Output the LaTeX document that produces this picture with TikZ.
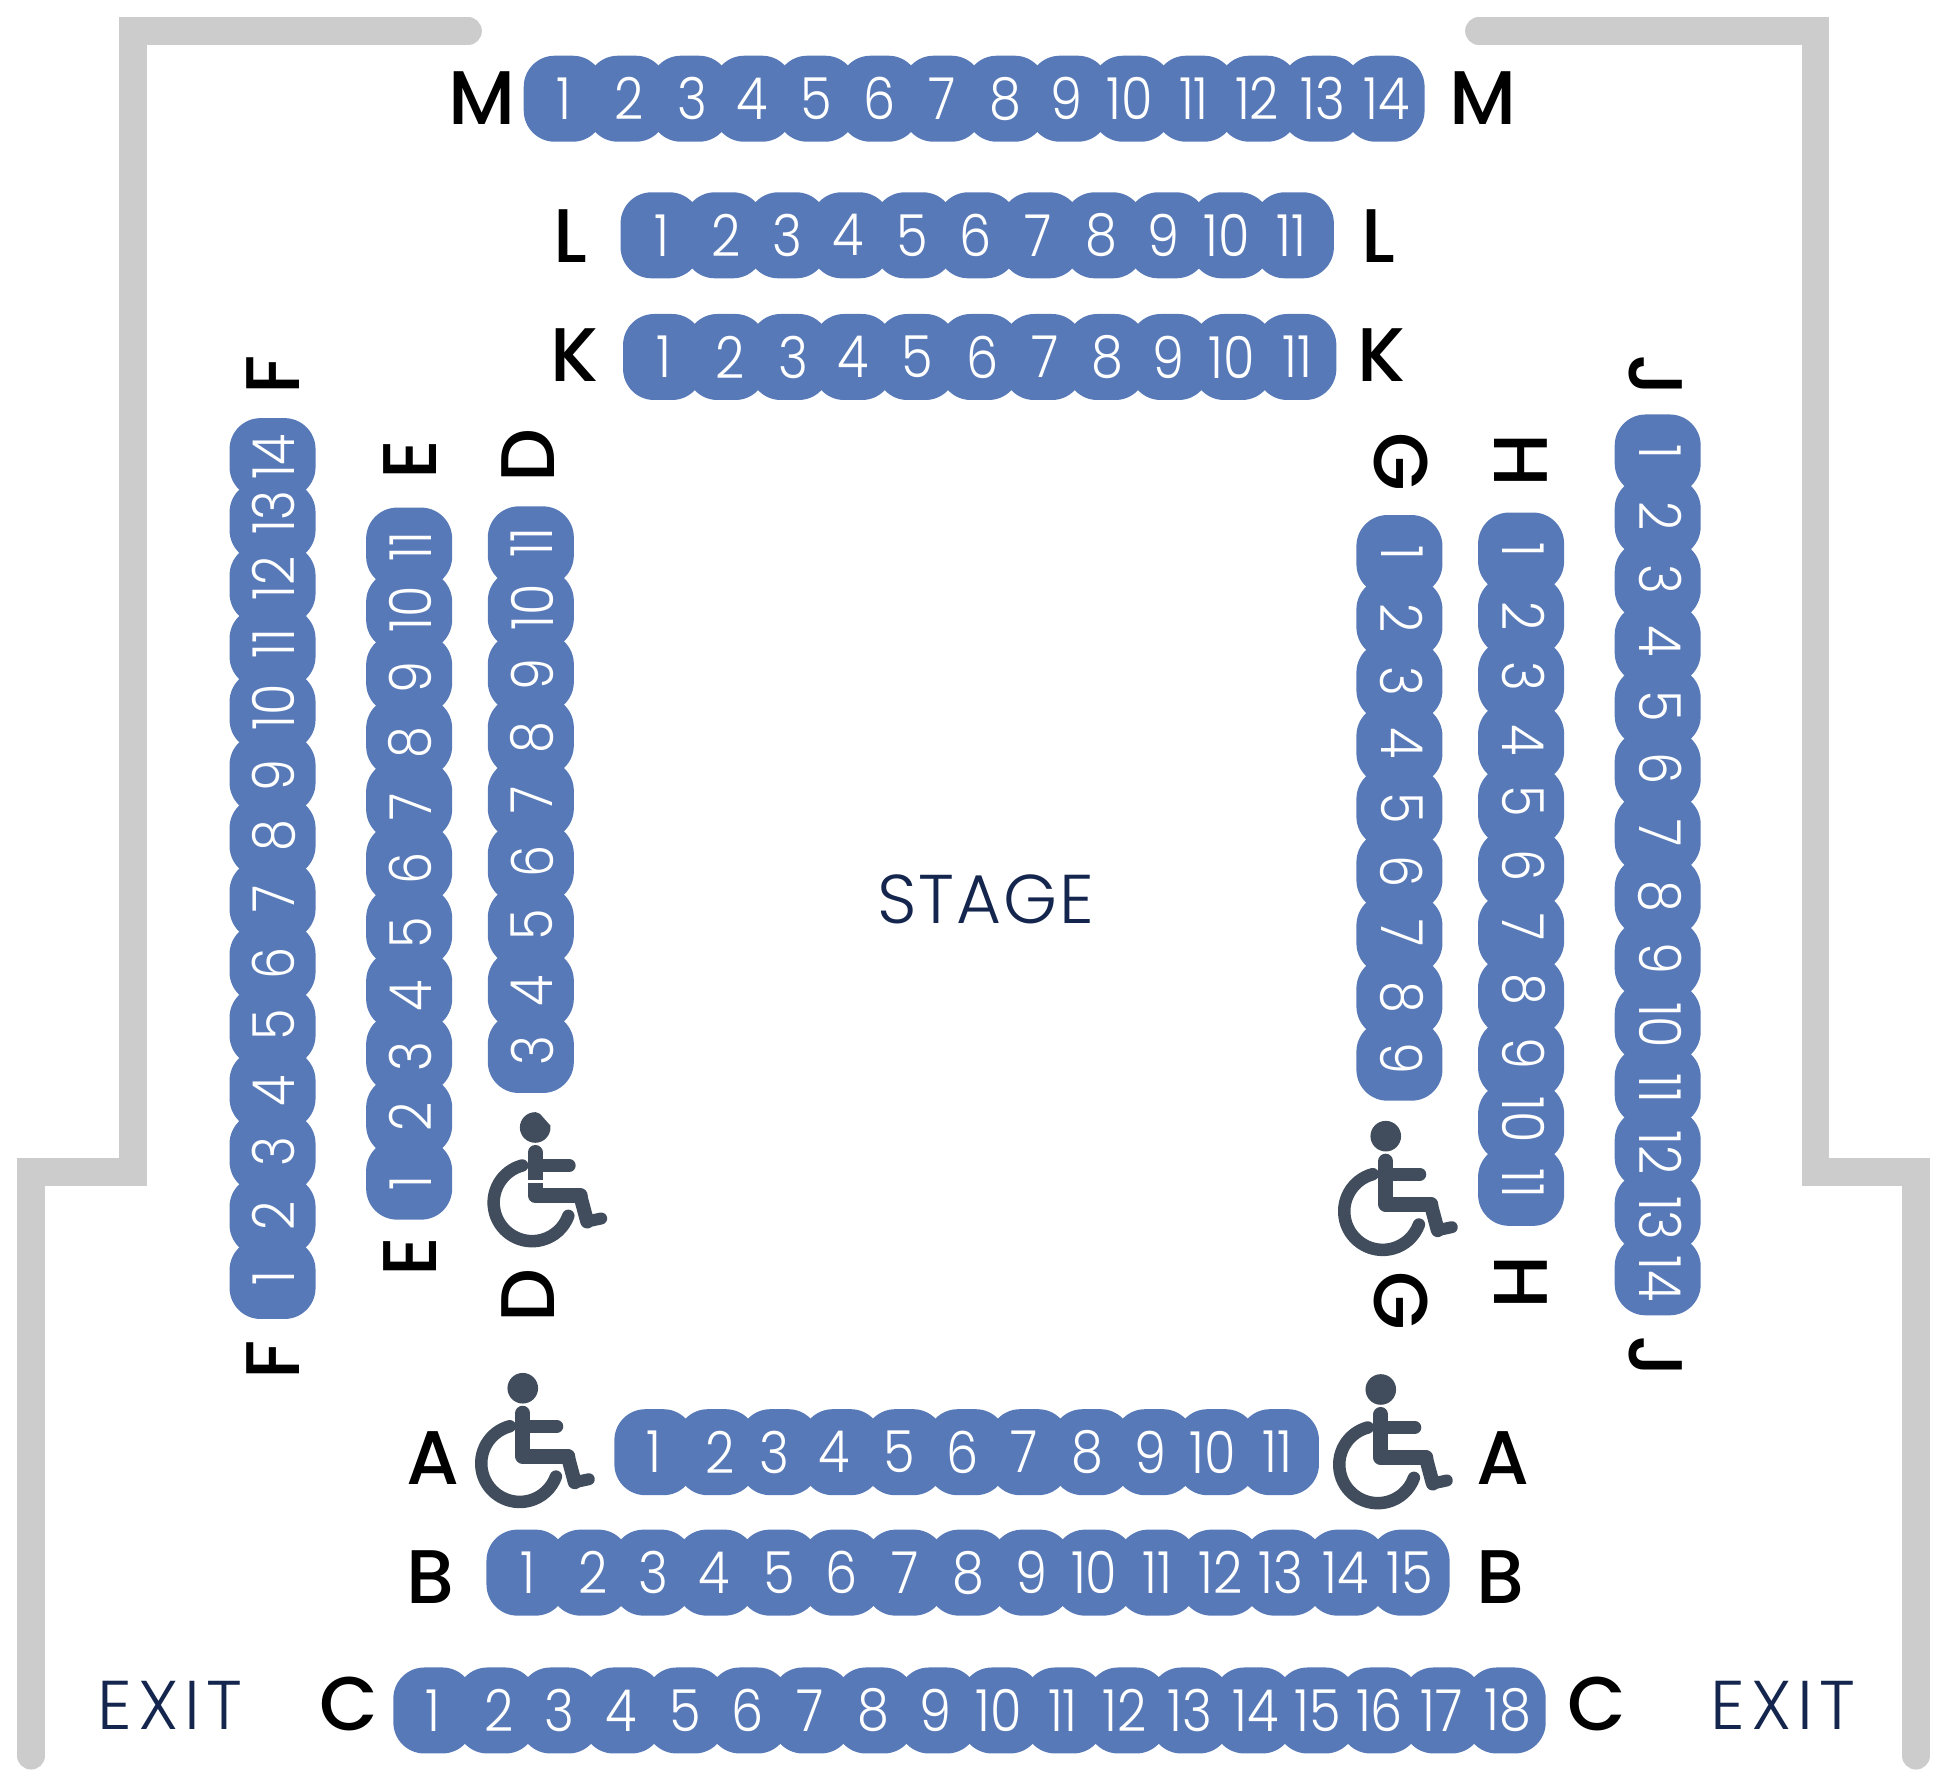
\documentclass[tikz,border=0pt]{standalone}
\usepackage{fontspec}
\setmainfont{Poppins}
\newfontfamily\thinfont{Poppins Light}
\newfontfamily\seatfont{Poppins Light}[FakeStretch=0.88]
\newfontfamily\medfont{Poppins Medium}
\definecolor{seatblue}{HTML}{5879B8}
\definecolor{wallgrey}{HTML}{CCCCCC}
\definecolor{chairgrey}{HTML}{414D5C}
\definecolor{navy}{HTML}{14264D}
\tikzset{
  seatnode/.style={fill=seatblue,rounded corners=31pt,minimum width=80pt,minimum height=86pt,inner sep=0pt},
  seatnum/.style={text=white,inner sep=0pt,font=\seatfont\fontsize{58}{58}\selectfont},
  rowlabel/.style={text=black,inner sep=0pt,font=\medfont\fontsize{76}{76}\selectfont},
  stagetext/.style={text=navy,inner sep=0pt,font=\thinfont\fontsize{69}{69}\selectfont\addfontfeature{LetterSpace=3}},
  exittext/.style={text=navy,inner sep=0pt,font=\thinfont\fontsize{69}{69}\selectfont\addfontfeature{LetterSpace=9}},
  wall/.style={draw=wallgrey,line width=27.5pt,line cap=round,miter limit=10},
  chairpart/.style={draw=chairgrey,line cap=round},
}
\newcommand{\numperp}{0}
% name, x of seat first, y of seat first, step x, step y, first number, last number, rotation, number offsets along the row
\newcommand{\seatline}[9]{%
  \foreach \n in {#6,...,#7}{%
    \pgfmathsetmacro{\px}{#2+(\n-#6)*(#4)}%
    \pgfmathsetmacro{\py}{#3+(\n-#6)*(#5)}%
    \node[seatnode,rotate=#8] (#1\n) at (\px,\py) {};%
  }%
  \foreach \n in {#6,...,#7}{%
    \pgfmathsetmacro{\px}{#2+(\n-#6)*(#4)}%
    \pgfmathsetmacro{\py}{#3+(\n-#6)*(#5)}%
    \pgfmathsetmacro{\off}{{#9}[int(\n-#6)]}%
    \pgfmathsetmacro{\qx}{\px+(#5==0 ? \off : \numperp)}%
    \pgfmathsetmacro{\qy}{\py+(#5==0 ? \numperp : \off)}%
    \node[seatnum,rotate=#8] (#1n\n) at (\qx,\qy) {\n};%
  }%
}
\newcommand{\wheelchair}[2]{%
  \begin{scope}[shift={(#1,#2)},x=1pt,y=-1pt]
    \fill[chairgrey] (0,0) circle[radius=15.3];
    \draw[chairpart,line width=15pt,line join=round] (0,25) -- (0,68) -- (45,68);
    \draw[chairpart,line width=13pt] (0,38) -- (34,38);
    \draw[chairpart,line width=14pt,line join=round] (45,68) -- (52,94);
    \draw[chairpart,line width=12pt] (52,94) -- (66,91);
    \draw[chairpart,line width=12.5pt] (-13,38) arc[start angle=-105,end angle=-340,radius=38.5];
  \end{scope}}
\begin{document}
\begin{tikzpicture}[x=1.2417pt,y=-1.2417pt]
\useasboundingbox (0,0) rectangle (1568,1439);
% walls
\coordinate (la) at (377,25); \coordinate (lb) at (107,25); \coordinate (lc) at (107,944);
\coordinate (ld) at (25,944); \coordinate (le) at (25,1414);
\coordinate (ra) at (1191,25); \coordinate (rb) at (1462,25); \coordinate (rc) at (1462,944);
\coordinate (rd) at (1543,944); \coordinate (re) at (1543,1414);
\draw[wall] (la) -- (lb) -- (lc) -- (ld) -- (le);
\draw[wall] (ra) -- (rb) -- (rc) -- (rd) -- (re);
% horizontal rows
\seatline{M}{454}{79.5}{50.85}{0}{1}{14}{0}{0,2,2,-1,0,0,0,0,-2,-2,-1,-1,1,2}
\seatline{L}{532}{189.5}{51}{0}{1}{11}{0}{1,2,0,-2,-1,-1,-2,-2,-3,-3,-2}
\seatline{K}{534}{287.5}{51}{0}{1}{11}{0}{1,3,3,0,1,2,2,1,-1,-1,1}
\seatline{A}{527}{1169.5}{50.3}{0}{1}{11}{0}{0,3,-4,-6,-4,-3,-4,-3,-3,-3,-1}
\seatline{B}{424}{1266.5}{50.8}{0}{1}{15}{0}{1,3,1,-1,0,0,0,0,0,0,0,0,-2,-1,0}
\seatline{C}{349}{1377.5}{50.8}{0}{1}{18}{0}{0,2,0,-1,0,-1,-1,-1,-2,-2,-1,-2,0,2,1,0,-1,2}
% vertical rows, seat 1 at the bottom
\renewcommand{\numperp}{1}
\seatline{F}{219.5}{1030}{0}{-50.85}{1}{14}{90}{-1,0,-1,1,-1,0,-1,-1,1,-3,-3,-5,-7,-1}
\seatline{E}{329.5}{950}{0}{-50.9}{1}{11}{90}{3,0,3,5,5,4,5,4,3,-1,-1}
\seatline{D}{427.5}{848}{0}{-51}{3}{11}{90}{-2,1,-1,-1,0,1,1,-2,-3}
% vertical rows, seat 1 at the top
\renewcommand{\numperp}{2}
\seatline{G}{1127}{447}{0}{50.9}{1}{9}{-90}{-2,0,0,-1,0,0,-1,0,-2}
\seatline{H}{1225}{445}{0}{51}{1}{11}{-90}{-2,0,-2,-2,-4,-3,-4,-5,-5,-2,-2}
\seatline{J}{1335}{366}{0}{50.85}{1}{14}{-90}{-2,-1,-1,-2,-1,-1,0,0,-1,2,2,3,5,3}
% row letters
\foreach \t/\xa/\ya/\xb/\yb in {M/388/79/1194/79,L/459/190/1110/190,K/463/286/1113/286,A/349/1174/1210/1174,B/347/1270/1208/1270,C/281/1372/1286/1372}{
  \node[rowlabel] (\t l) at (\xa,\ya) {\t};
  \node[rowlabel] (\t r) at (\xb,\yb) {\t};
}
\foreach \t/\xa/\ya/\yb in {F/220/302/1095,E/330/370/1012,D/425/367/1043}{
  \node[rowlabel,rotate=90] (\t t) at (\xa,\ya) {\t};
  \node[rowlabel,rotate=90] (\t b) at (\xa,\yb) {\t};
}
\foreach \t/\xa/\ya/\yb in {G/1128/372/1048,H/1225/371/1033,J/1333/303/1093}{
  \node[rowlabel,rotate=-90] (\t t) at (\xa,\ya) {\t};
  \node[rowlabel,rotate=-90] (\t b) at (\xa,\yb) {\t};
}
% big texts
\node[stagetext] (stage) at (794,724) {STAGE};
\node[exittext] (exitl) at (137,1373) {EXIT};
\node[exittext] (exitr) at (1436,1373) {EXIT};
% wheelchairs
\wheelchair{431}{908}
\wheelchair{421}{1118}
\wheelchair{1116}{915}
\wheelchair{1112}{1119}
% pale marks left over on the first wheelchair
\fill[white] (423,891) -- (435,897) -- (443,906) -- (446,896) -- (432,886) -- cycle;
\fill[white] (424,950.5) rectangle (438,952.5);
\end{tikzpicture}
\end{document}
